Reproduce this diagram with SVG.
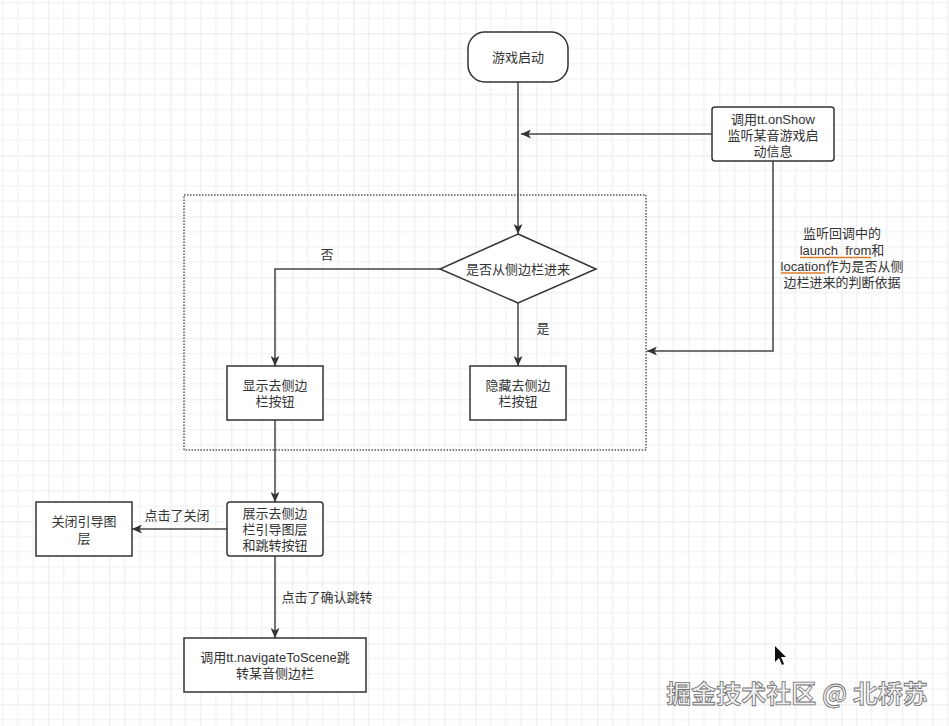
<svg xmlns="http://www.w3.org/2000/svg" width="949" height="726" viewBox="0 0 949 726">
<style>
.box{fill:#fff;stroke:#333;stroke-width:1.5}
.t{font-family:"Liberation Sans","Noto Sans CJK SC",sans-serif;font-size:13px;fill:#333;text-anchor:middle;dominant-baseline:central}
.c{fill:none;stroke:#444;stroke-width:1.5}
.minor{stroke:#f0f0f0;stroke-width:1.2}
.major{stroke:#e6e6e6;stroke-width:1.6}
</style>
<defs>
<marker id="arr" markerUnits="userSpaceOnUse" markerWidth="11" markerHeight="9" refX="10" refY="4.5" orient="auto">
<path d="M0,0 L10,4.5 L0,9 L2.5,4.5 z" fill="#333"/>
</marker>
<pattern id="grid" patternUnits="userSpaceOnUse" x="48.3" y="33.3" width="61" height="61">
<path class="minor" d="M15.25,0V61M30.5,0V61M45.75,0V61M0,15.25H61M0,30.5H61M0,45.75H61"/>
<path class="major" d="M0,0V61M0,0H61"/>
</pattern>
</defs>
<rect width="949" height="726" fill="#fff"/>
<rect width="949" height="726" fill="url(#grid)"/>

<g id="container">
<rect x="184" y="195" width="462" height="255" fill="none" stroke="#555" stroke-width="1.5" stroke-dasharray="1.5,1.5"/>
</g>

<g id="connectors">
<path class="c" d="M518,82 L518,234" marker-end="url(#arr)"/>
<path class="c" d="M712,134 L521,134" marker-end="url(#arr)"/>
<path class="c" d="M773,161 L773,351 L647,351" marker-end="url(#arr)"/>
<path class="c" d="M440,269 L275,269 L275,366" marker-end="url(#arr)"/>
<path class="c" d="M518,303 L518,366" marker-end="url(#arr)"/>
<path class="c" d="M275,420 L275,502" marker-end="url(#arr)"/>
<path class="c" d="M227,529 L132,529" marker-end="url(#arr)"/>
<path class="c" d="M275,556 L275,638" marker-end="url(#arr)"/>
<text class="t" x="327" y="254">否</text>
<text class="t" x="543" y="328">是</text>
<text class="t" x="177" y="515">点击了关闭</text>
<text class="t" x="327" y="597">点击了确认跳转</text>
<g id="note">
<text class="t"><tspan x="842" y="233">监听回调中的</tspan><tspan x="842" y="250">launch_from和</tspan><tspan x="842" y="266">location作为是否从侧</tspan><tspan x="842" y="282">边栏进来的判断依据</tspan></text>
<path d="M800,257.5 H871 M781,273 H825" stroke="#e07b2a" stroke-width="1.5" fill="none"/>
</g>
</g>

<g id="start">
<rect class="box" x="468" y="32" width="100" height="50" rx="17" ry="17"/>
<text class="t" x="518" y="57">游戏启动</text>
</g>
<g id="onshow">
<rect class="box" x="712" y="107" width="122" height="54" rx="3"/>
<text class="t"><tspan x="773" y="119">调用tt.onShow</tspan><tspan x="773" y="135">监听某音游戏启</tspan><tspan x="773" y="151">动信息</tspan></text>
</g>
<g id="decision">
<polygon class="box" points="518,234 596,269 518,303 440,269"/>
<text class="t" x="518" y="269">是否从侧边栏进来</text>
</g>
<g id="show">
<rect class="box" x="227" y="366" width="96" height="54"/>
<text class="t"><tspan x="275" y="385">显示去侧边</tspan><tspan x="275" y="401">栏按钮</tspan></text>
</g>
<g id="hide">
<rect class="box" x="470" y="366" width="96" height="54"/>
<text class="t"><tspan x="518" y="385">隐藏去侧边</tspan><tspan x="518" y="401">栏按钮</tspan></text>
</g>
<g id="guide">
<rect class="box" x="227" y="502" width="96" height="54" rx="3"/>
<text class="t"><tspan x="275" y="513">展示去侧边</tspan><tspan x="275" y="529">栏引导图层</tspan><tspan x="275" y="545">和跳转按钮</tspan></text>
</g>
<g id="close">
<rect class="box" x="36" y="502" width="96" height="54"/>
<text class="t"><tspan x="84" y="521">关闭引导图</tspan><tspan x="84" y="538">层</tspan></text>
</g>
<g id="navigate">
<rect class="box" x="184" y="638" width="182" height="54"/>
<text class="t"><tspan x="275" y="657">调用tt.navigateToScene跳</tspan><tspan x="275" y="673">转某音侧边栏</tspan></text>
</g>

<polygon points="775,646 775,662 779,658 782,665 784,664 781,657 786,657" fill="#111"/>
<text x="797" y="692" font-family="Noto Sans CJK SC,sans-serif" font-size="25" font-weight="bold" fill="#f0f0f0" stroke="#707070" stroke-width="0.8" text-anchor="middle" dominant-baseline="central">掘金技术社区 @ 北桥苏</text>
</svg>
